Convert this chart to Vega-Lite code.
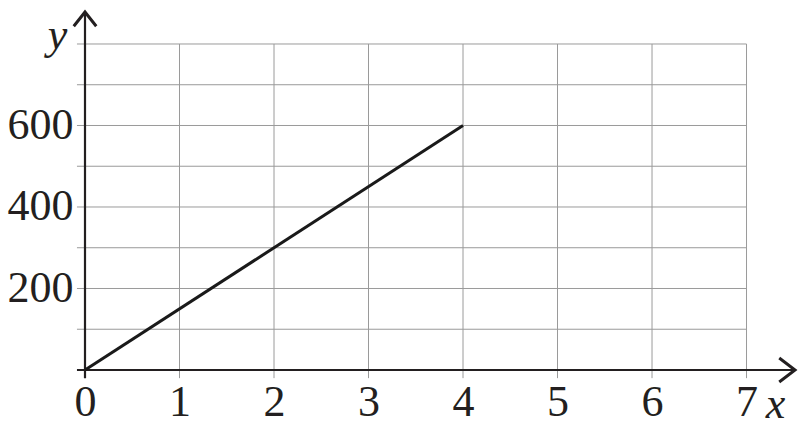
{
  "$schema": "https://vega.github.io/schema/vega-lite/v6.json",
  "width": 710,
  "height": 358,
  "autosize": "none",
  "padding": {"left": 85, "top": 12, "right": 5, "bottom": 72},
  "background": "white",
  "config": {"view": {"stroke": null}},
  "datasets": {
    "grid": [
      {"x": -0.085, "x2": 7, "y": 100, "y2": 100},
      {"x": -0.085, "x2": 7, "y": 200, "y2": 200},
      {"x": -0.085, "x2": 7, "y": 300, "y2": 300},
      {"x": -0.085, "x2": 7, "y": 400, "y2": 400},
      {"x": -0.085, "x2": 7, "y": 500, "y2": 500},
      {"x": -0.085, "x2": 7, "y": 600, "y2": 600},
      {"x": -0.085, "x2": 7, "y": 700, "y2": 700},
      {"x": -0.085, "x2": 7, "y": 800, "y2": 800},
      {"x": 1, "x2": 1, "y": -20, "y2": 800},
      {"x": 2, "x2": 2, "y": -20, "y2": 800},
      {"x": 3, "x2": 3, "y": -20, "y2": 800},
      {"x": 4, "x2": 4, "y": -20, "y2": 800},
      {"x": 5, "x2": 5, "y": -20, "y2": 800},
      {"x": 6, "x2": 6, "y": -20, "y2": 800},
      {"x": 7, "x2": 7, "y": -20, "y2": 800}
    ],
    "axes": [
      {"x": -0.085, "x2": 7.51, "y": 0, "y2": 0},
      {"x": 0, "x2": 0, "y": -20, "y2": 878}
    ],
    "arrows": [
      {"x": 7.513, "y": 0, "dir": "right"},
      {"x": 0, "y": 878.5, "dir": "up"}
    ],
    "line": [
      {"x": 0, "y": 0},
      {"x": 4, "y": 600}
    ]
  },
  "encoding": {
    "x": {
      "field": "x", "type": "quantitative",
      "scale": {"domain": [0, 7.513], "nice": false, "zero": false},
      "axis": {
        "values": [0, 1, 2, 3, 4, 5, 6, 7],
        "domain": false, "ticks": false, "grid": false,
        "labelFlush": false, "labelOverlap": false, "labelBound": false,
        "labelFont": "Liberation Serif", "labelFontSize": 44, "labelColor": "#231f20",
        "labelPadding": 10,
        "title": "x", "titleFont": "Liberation Serif", "titleFontStyle": "italic",
        "titleFontWeight": "normal", "titleFontSize": 44, "titleColor": "#231f20",
        "titleX": 690, "titleY": 47, "titleAlign": "center", "titleBaseline": "alphabetic"
      }
    },
    "y": {
      "field": "y", "type": "quantitative",
      "scale": {"domain": [0, 878.5], "nice": false, "zero": false},
      "axis": {
        "values": [200, 400, 600],
        "domain": false, "ticks": false, "grid": false,
        "labelFlush": false, "labelOverlap": false, "labelBound": false,
        "labelFont": "Liberation Serif", "labelFontSize": 44, "labelColor": "#231f20",
        "labelPadding": 12,
        "title": "y", "titleFont": "Liberation Serif", "titleFontStyle": "italic",
        "titleFontWeight": "normal", "titleFontSize": 44, "titleColor": "#231f20",
        "titleAngle": 0, "titleX": -28, "titleY": 36, "titleAlign": "center", "titleBaseline": "alphabetic"
      }
    }
  },
  "layer": [
    {
      "data": {"name": "grid"},
      "mark": {"type": "rule", "color": "#9a9a9a", "strokeWidth": 1},
      "encoding": {"x2": {"field": "x2"}, "y2": {"field": "y2"}}
    },
    {
      "data": {"name": "axes"},
      "mark": {"type": "rule", "color": "#231f20", "strokeWidth": 2.2},
      "encoding": {"x2": {"field": "x2"}, "y2": {"field": "y2"}}
    },
    {
      "data": {"name": "arrows"},
      "mark": {"type": "point", "filled": false, "stroke": "#231f20", "strokeWidth": 3, "opacity": 1, "size": 900, "strokeJoin": "miter"},
      "encoding": {
        "shape": {
          "field": "dir", "type": "nominal", "legend": null,
          "scale": {"domain": ["right", "up"], "range": ["M-1.05,-0.8L0,0L-1.05,0.8", "M-0.75,0.95L0,0L0.75,0.95"]}
        }
      }
    },
    {
      "data": {"name": "line"},
      "mark": {"type": "line", "color": "#1a1a1a", "strokeWidth": 3}
    }
  ]
}
